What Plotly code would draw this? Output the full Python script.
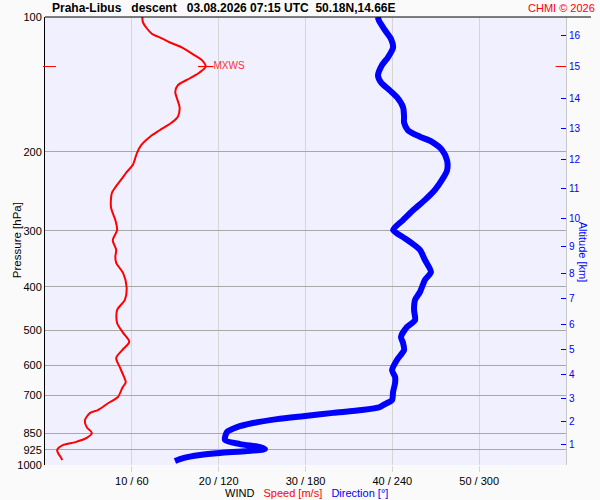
import numpy as np
import plotly.graph_objects as go

# wind speed profile (m/s) vs pressure (hPa)
speed_p = [975, 960, 940, 926, 902, 889, 870, 848, 823, 794, 765, 754, 727, 705,
           673, 653, 636, 604, 577, 554, 531, 507, 482, 451, 428, 401, 373, 354,
           343, 331, 315, 299, 284, 266, 247, 240, 229, 222, 214, 201, 193, 185,
           179, 172, 167, 159, 152, 147, 142, 137, 133, 129, 125, 122, 117, 114,
           111, 109, 103, 100]
speed = [2.0, 1.8, 1.5, 1.4, 2.1, 3.5, 4.8, 5.4, 4.8, 4.6, 5.2, 6.1, 7.3, 8.4,
         8.9, 9.3, 9.1, 8.6, 8.2, 8.9, 9.7, 9.0, 8.3, 8.3, 9.2, 9.4, 9.0, 8.2,
         8.1, 8.2, 7.8, 8.3, 8.1, 7.6, 7.7, 8.1, 8.9, 9.4, 10.1, 10.6, 11.1, 12.1,
         13.2, 14.6, 15.3, 15.5, 15.2, 15.0, 15.3, 16.7, 17.8, 18.5, 18.1, 17.3, 15.8, 14.4,
         13.2, 12.3, 11.3, 11.2]

# wind direction profile (deg)
dir_p = [980, 965, 950, 940, 931, 921, 912, 898, 879, 844, 823, 806, 790, 778,
         765, 754, 742, 735, 716, 687, 656, 636, 614, 583, 554, 534, 518, 492,
         475, 451, 428, 411, 386, 371, 349, 331, 320, 310, 299, 284, 270, 256,
         243, 231, 220, 209, 198, 190, 185, 179, 172, 167, 159, 151, 146, 140,
         135, 128, 123, 117, 112, 107, 102, 100]
direction = [89.8, 95.4, 107.1, 120.9, 139.6, 152.0, 148.6, 134.7, 124.4, 125.8, 132.7, 143.7, 160.3, 178.3,
             199.0, 219.0, 231.5, 233.6, 239.8, 240.5, 241.9, 241.9, 239.8, 243.2, 248.1, 247.4, 246.0, 250.1,
             255.7, 255.0, 255.7, 259.1, 262.6, 266.7, 262.6, 259.1, 253.6, 247.4, 240.5, 247.4, 254.3, 262.6,
             269.5, 274.3, 277.8, 277.8, 274.3, 267.4, 259.1, 250.8, 248.1, 248.1, 247.4, 243.2, 238.4, 232.2,
             230.1, 232.9, 237.0, 240.5, 239.1, 234.9, 230.8, 230.0]

# altitude scale (km) and the pressure where each km falls
alt_km = list(range(1, 17))
alt_p = [898, 798, 709, 627, 551, 485, 426, 373, 325, 281, 242, 208, 177, 152, 129, 110]

p_ticks = [100, 200, 300, 400, 500, 600, 700, 850, 925, 1000]
x_ticks = [10, 20, 30, 40, 50]
x_labels = ["10 / 60", "20 / 120", "30 / 180", "40 / 240", "50 / 300"]

FONT = "Liberation Sans, Arial, sans-serif"
RED = "#ff0000"
BLUE = "#0000ff"

imax = int(np.argmax(speed))
p_max = speed_p[imax]
v_max = speed[imax]

fig = go.Figure()

fig.add_trace(go.Scatter(x=direction, y=dir_p, xaxis="x2", yaxis="y", mode="lines",
                         line=dict(color=BLUE, width=6, shape="spline", smoothing=0.7),
                         hoverinfo="skip", showlegend=False))
fig.add_trace(go.Scatter(x=speed, y=speed_p, mode="lines",
                         line=dict(color=RED, width=2, shape="spline", smoothing=0.8),
                         hoverinfo="skip", showlegend=False))
fig.add_trace(go.Scatter(x=[v_max], y=[p_max], mode="markers+text", text=["MXWS"],
                         textposition="middle right",
                         textfont=dict(family=FONT, size=10, color="#ff3030"),
                         marker=dict(symbol="line-ew", size=11, line=dict(color=RED, width=1.2)),
                         hoverinfo="skip", showlegend=False))
# invisible trace to activate the altitude axis
fig.add_trace(go.Scatter(x=[None], y=[None], yaxis="y2", showlegend=False))

fig.update_layout(
    template="none",
    width=600, height=500,
    margin=dict(l=45, r=34, t=17, b=35, autoexpand=False),
    paper_bgcolor="#fafafa",
    plot_bgcolor="#f0f0ff",
    font=dict(family=FONT, size=11, color="#000000"),
    xaxis=dict(range=[0, 60], tickvals=x_ticks, ticktext=x_labels, automargin=False,
               showgrid=True, gridcolor="#d6d6d6", gridwidth=1,
               ticks="outside", ticklen=6, tickcolor="#d6d6d6",
               zeroline=False, showline=False, tickfont=dict(size=11)),
    xaxis2=dict(range=[0, 360], overlaying="x", visible=False),
    yaxis=dict(type="log", range=[3, 2], tickvals=p_ticks, ticktext=[str(v) for v in p_ticks],
               automargin=False, showgrid=True, gridcolor="#a8a8a8", gridwidth=1,
               ticks="", showline=True, linecolor="#000000", linewidth=1,
               zeroline=False, tickfont=dict(size=11)),
    yaxis2=dict(type="log", range=[3, 2], overlaying="y", side="right", automargin=False,
                tickvals=alt_p, ticktext=[str(k) for k in alt_km],
                ticks="inside", ticklen=5, tickcolor=BLUE, tickwidth=1,
                tickfont=dict(size=10, color=BLUE),
                showgrid=False, showline=True, linecolor="#c8c8c8", zeroline=False),
)

fig.add_shape(type="line", xref="paper", yref="paper", x0=0, x1=1.048, y0=1, y1=1,
              line=dict(color="#000000", width=1))
fig.add_shape(type="line", xref="paper", yref="y", x0=-0.004, x1=0.021, y0=p_max, y1=p_max,
              line=dict(color=RED, width=1))
fig.add_shape(type="line", xref="paper", yref="y", x0=0.98, x1=1.0, y0=p_max, y1=p_max,
              line=dict(color=RED, width=1))

fig.add_annotation(x=0.0096, y=1.02, xref="paper", yref="paper", xanchor="left", yanchor="middle",
                   showarrow=False,
                   text="<b>Praha-Libus\u00a0\u00a0 descent\u00a0\u00a0 03.08.2026 07:15 UTC\u00a0 50.18N,14.66E</b>",
                   font=dict(size=12, color="#000000"))
fig.add_annotation(x=1.0595, y=1.02, xref="paper", yref="paper", xanchor="right", yanchor="middle",
                   showarrow=False, text="CHMI © 2026", font=dict(size=11, color=RED))
fig.add_annotation(x=-0.069, y=0.502, xref="paper", yref="paper", textangle=-90,
                   showarrow=False, text="Pressure [hPa]", font=dict(size=11.5, color="#000000"))
fig.add_annotation(x=1.047, y=0.475, xref="paper", yref="paper", textangle=90,
                   showarrow=False, text="Altitude [km]", font=dict(size=11, color=BLUE))
fig.add_annotation(x=0.502, y=-0.062, xref="paper", yref="paper", yanchor="middle",
                   showarrow=False,
                   text="WIND\u00a0\u00a0 <span style='color:#ff0000'>Speed [m/s]</span>\u00a0\u00a0 "
                        "<span style='color:#0000ff'>Direction [°]</span>",
                   font=dict(size=11, color="#000000"))

fig.write_html("out.html", config={"displayModeBar": False},
               post_script="document.body.style.margin='0';")
